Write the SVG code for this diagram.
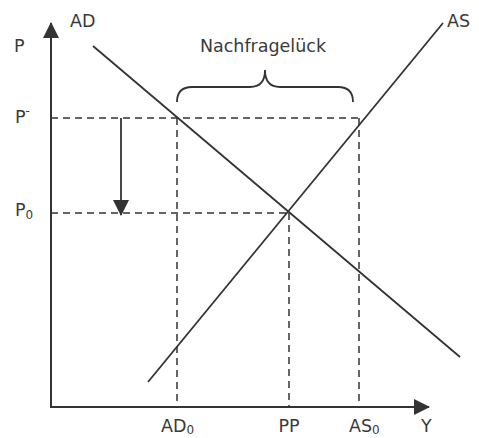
<svg xmlns="http://www.w3.org/2000/svg" width="479" height="438" viewBox="0 0 479 438">
<style>
text{font-family:"DejaVu Sans","Verdana",sans-serif;font-size:17.5px;fill:#3a3a3a}
.sub{font-size:12px}
.ax{stroke:#333;stroke-width:2;fill:none}
.ln{stroke:#333;stroke-width:1.8;fill:none}
.ds{stroke:#333;stroke-width:1.5;stroke-dasharray:7,5;fill:none}
</style>
<defs>
<marker id="ah" markerWidth="16" markerHeight="16" viewBox="0 0 16 16" refX="15" refY="8" orient="auto" markerUnits="userSpaceOnUse">
<path d="M0,0 L16,8 L0,16 Z" fill="#333"/>
</marker>
</defs>
<rect width="479" height="438" fill="#fff"/>
<g id="connectors">
<line class="ds" x1="51" y1="118" x2="360" y2="118"/>
<line class="ds" x1="51" y1="213" x2="289" y2="213"/>
<line class="ds" x1="177" y1="118" x2="177" y2="407"/>
<line class="ds" x1="289" y1="213" x2="289" y2="407"/>
<line class="ds" x1="359" y1="118" x2="359" y2="407"/>
<line class="ln" x1="121" y1="118" x2="121" y2="215" marker-end="url(#ah)"/>
<line class="ax" x1="51" y1="407" x2="51" y2="23" marker-end="url(#ah)"/>
<line class="ax" x1="50" y1="407" x2="429" y2="407" marker-end="url(#ah)"/>
<line class="ln" x1="93" y1="46" x2="460" y2="357"/>
<line class="ln" x1="148" y1="382" x2="443" y2="23"/>
<path class="ln" d="M177,102 Q177,87 192,87 L250,87 Q265,87 265,70 Q265,87 280,87 L338,87 Q353,87 353,102"/>
</g>
<g id="labels">
<text x="263" y="52" text-anchor="middle">Nachfragelück</text>
<text x="70" y="27">AD</text>
<text x="447" y="27">AS</text>
<text x="14" y="52">P</text>
<text x="15" y="123">P<tspan class="sub" dy="-8">-</tspan></text>
<text x="15" y="216">P<tspan class="sub" dy="3">0</tspan></text>
<text x="161" y="432">AD<tspan class="sub" dy="2">0</tspan></text>
<text x="289" y="432" text-anchor="middle">PP</text>
<text x="349" y="432">AS<tspan class="sub" dy="2">0</tspan></text>
<text x="421" y="432">Y</text>
</g>
</svg>
